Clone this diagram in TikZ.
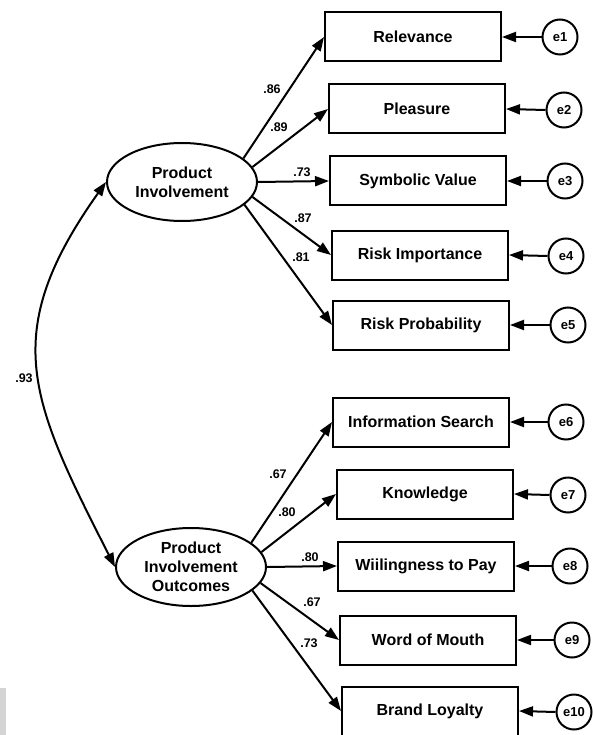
\documentclass[tikz,border=0pt]{standalone}
\usepackage{fontspec}
\setmainfont{Liberation Sans}
\usetikzlibrary{arrows.meta,shapes.geometric}
\begin{document}
\begin{tikzpicture}[x=1pt,y=-1pt,
  obs/.style={draw,line width=2pt,minimum width=176pt,minimum height=49pt,inner sep=0pt,font=\fontsize{16}{18}\selectfont\bfseries},
  lat/.style={draw,ellipse,line width=2pt,minimum width=150pt,minimum height=78pt,inner sep=0pt,align=center,font=\fontsize{16}{19}\selectfont\bfseries},
  err/.style={draw,circle,line width=2pt,minimum size=35pt,inner sep=0pt,font=\fontsize{13}{14}\selectfont\bfseries},
  wt/.style={font=\fontsize{12.5}{14}\selectfont\bfseries,inner sep=0pt},
  arr/.style={line width=2pt,-{Triangle[length=14pt,width=10pt]}},
  darr/.style={line width=2pt,{Triangle[length=14pt,width=10pt]}-{Triangle[length=14pt,width=10pt]}},
]
\useasboundingbox[fill=white] (0,0) rectangle (593,735);
\fill[fill={rgb,255:red,212;green,212;blue,212}] (0,688) rectangle (6,735);

% latent variables
\node[lat] (p1) at (182,182) {Product\\Involvement};
\node[lat] (p2) at (191,567) {Product\\Involvement\\Outcomes};

% observed variables
\node[obs] (rel) at (413,37) {Relevance};
\node[obs] (ple) at (417,109) {Pleasure};
\node[obs] (sym) at (418,181) {Symbolic Value};
\node[obs] (rim) at (420,255) {Risk Importance};
\node[obs] (rpr) at (421,325) {Risk Probability};
\node[obs] (ins) at (421,422) {Information Search};
\node[obs] (kno) at (425,494) {Knowledge};
\node[obs] (wtp) at (426,566) {Wiilingness to Pay};
\node[obs] (wom) at (428,640) {Word of Mouth};
\node[obs] (bra) at (430,711) {Brand Loyalty};

% error terms
\node[err] (e1) at (560,37) {e1};
\node[err] (e2) at (564,110) {e2};
\node[err] (e3) at (565,181) {e3};
\node[err] (e4) at (566,256) {e4};
\node[err] (e5) at (568,325) {e5};
\node[err] (e6) at (566,422) {e6};
\node[err] (e7) at (568,495) {e7};
\node[err] (e8) at (570,566) {e8};
\node[err] (e9) at (572,640) {e9};
\node[err] (e10) at (574,712) {e10};

% loadings
\draw[arr] (p1.21) -- (rel.west);
\draw[arr] (p1.12) -- (ple.west);
\draw[arr] (p1.0) -- (sym.west);
\draw[arr] (p1.-12) -- (rim.west);
\draw[arr] (p1.-20) -- (rpr.west);
\draw[arr] (p2.22) -- (ins.west);
\draw[arr] (p2.12) -- (kno.west);
\draw[arr] (p2.0) -- (wtp.west);
\draw[arr] (p2.-13) -- (wom.west);
\draw[arr] (p2.-21) -- (bra.west);

% error arrows
\foreach \e/\b in {e1/rel,e2/ple,e3/sym,e4/rim,e5/rpr,e6/ins,e7/kno,e8/wtp,e9/wom,e10/bra}
  \draw[arr] (\e.west) -- (\b.east);

% covariance
\draw[darr] (p1.west) .. controls (-2,334) and (30,400) .. (p2.west);

% weights
\node[wt] (w1) at (272,89) {.86};
\node[wt] (w2) at (279,127) {.89};
\node[wt] (w3) at (302,172) {.73};
\node[wt] (w4) at (303,218) {.87};
\node[wt] (w5) at (301,257) {.81};
\node[wt] (w6) at (278,474) {.67};
\node[wt] (w7) at (287,512) {.80};
\node[wt] (w8) at (310,557) {.80};
\node[wt] (w9) at (312,602) {.67};
\node[wt] (w10) at (309,643) {.73};
\node[wt] (w11) at (24,378) {.93};
\end{tikzpicture}
\end{document}
